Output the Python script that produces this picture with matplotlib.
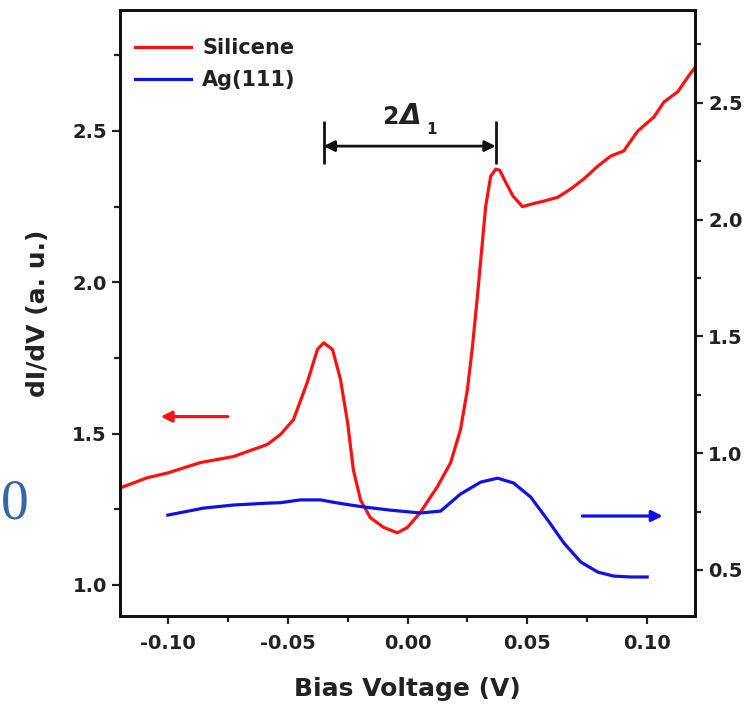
import numpy as np
import matplotlib
matplotlib.use("Agg")
import matplotlib.pyplot as plt
from matplotlib.ticker import MultipleLocator

plt.rcParams['font.family'] = 'DejaVu Sans'
plt.rcParams['font.weight'] = 'bold'

# --- data ---
# Silicene dI/dV (left axis)
si_v = [-0.120, -0.1086, -0.100, -0.0865, -0.0727, -0.0585, -0.053, -0.0476, -0.0418, -0.0376,
        -0.035, -0.0313, -0.028, -0.025, -0.0226, -0.0196, -0.0155, -0.010, -0.0042, 0.0,
        0.0054, 0.0125, 0.018, 0.0221, 0.025, 0.0271, 0.029, 0.0326, 0.0347, 0.0368,
        0.0385, 0.041, 0.044, 0.048, 0.0525, 0.0568, 0.0627, 0.068, 0.0735, 0.0794,
        0.0848, 0.0902, 0.0961, 0.1028, 0.107, 0.1128, 0.118, 0.120]
si_y = [1.32, 1.354, 1.37, 1.404, 1.424, 1.464, 1.497, 1.546, 1.67, 1.778,
        1.80, 1.778, 1.68, 1.536, 1.38, 1.28, 1.222, 1.19, 1.172, 1.19,
        1.24, 1.325, 1.404, 1.513, 1.646, 1.788, 1.94, 2.25, 2.35, 2.374,
        2.37, 2.33, 2.285, 2.25, 2.26, 2.268, 2.281, 2.308, 2.341, 2.384,
        2.417, 2.434, 2.50, 2.546, 2.596, 2.63, 2.69, 2.71]

# Ag(111) dI/dV (right axis)
ag_v = [-0.10, -0.085, -0.0727, -0.0585, -0.053, -0.0447, -0.0363, -0.031, -0.0238, -0.0184,
        -0.0071, 0.0054, 0.0138, 0.0221, 0.0305, 0.0376, 0.0443, 0.0514, 0.0585, 0.0652,
        0.0723, 0.0794, 0.086, 0.093, 0.10]
ag_y = [0.735, 0.765, 0.778, 0.786, 0.788, 0.80, 0.80, 0.79, 0.778, 0.77,
        0.756, 0.744, 0.752, 0.825, 0.876, 0.893, 0.872, 0.812, 0.714, 0.616,
        0.534, 0.491, 0.474, 0.470, 0.470]

# gap marker (peak positions) and its level on the left axis
gap_left, gap_right = -0.035, 0.0368
gap_level, gap_lo, gap_hi = 2.45, 2.39, 2.533

red = '#ff1010'
blue = '#1010e8'
ink = '#222222'

# --- figure ---
fig = plt.figure(figsize=(7.45, 7.07), dpi=100)
ax = fig.add_axes([0.161, 0.1287, 0.772, 0.8572])
ax2 = ax.twinx()

l1, = ax.plot(si_v, si_y, color=red, lw=2.3, label='Silicene', solid_joinstyle='round')
l2, = ax2.plot(ag_v, ag_y, color=blue, lw=2.3, label='Ag(111)', solid_joinstyle='round')

ax.set_xlim(-0.12, 0.12)
ax.set_ylim(0.897, 2.90)
ax2.set_ylim(0.303, 2.897)

ax.xaxis.set_major_locator(MultipleLocator(0.05))
ax.xaxis.set_minor_locator(MultipleLocator(0.025))
ax.yaxis.set_major_locator(MultipleLocator(0.5))
ax.yaxis.set_minor_locator(MultipleLocator(0.25))
ax2.yaxis.set_major_locator(MultipleLocator(0.5))
ax2.yaxis.set_minor_locator(MultipleLocator(0.25))
ax.xaxis.set_major_formatter(plt.FuncFormatter(lambda v, p: f"{v:.2f}"))
ax.yaxis.set_major_formatter(plt.FuncFormatter(lambda v, p: f"{v:.1f}"))
ax2.yaxis.set_major_formatter(plt.FuncFormatter(lambda v, p: f"{v:.1f}"))

for a in (ax, ax2):
    a.tick_params(which='both', direction='out', width=1.6, labelsize=14, colors=ink)
    a.tick_params(which='major', length=6)
    a.tick_params(which='minor', length=4)
    for s in a.spines.values():
        s.set_linewidth(2)
        s.set_color('#111111')
ax.tick_params(axis='y', which='both', right=False)
ax.tick_params(axis='x', which='both', top=False)
ax.tick_params(axis='x', which='major', pad=7)

ax.set_xlabel('Bias Voltage (V)', fontsize=18, fontweight='bold', labelpad=17, color=ink)
ax.set_ylabel('dI/dV (a. u.)', fontsize=18, fontweight='bold', labelpad=16, color=ink)

leg = ax.legend(handles=[l1, l2], loc='upper left', frameon=False, fontsize=15,
                handlelength=2.7, handletextpad=0.55, labelspacing=0.55,
                borderaxespad=0.3, bbox_to_anchor=(0.0, 0.977))
for t in leg.get_texts():
    t.set_fontweight('bold')
    t.set_color(ink)

# gap annotation
ax.vlines([gap_left, gap_right], gap_lo, gap_hi, color='#111111', lw=2)
ax.annotate('', xy=(gap_left, gap_level), xytext=(gap_right, gap_level),
            arrowprops=dict(arrowstyle='<|-|>', color='#111111', lw=2,
                            mutation_scale=16, shrinkA=0, shrinkB=0))
mid = (gap_left + gap_right) / 2
ax.annotate('2', xy=(mid, gap_level), xytext=(-8, 16), textcoords='offset points',
            ha='right', va='baseline', fontsize=17, fontweight='bold', color=ink)
ax.annotate('\u0394', xy=(mid, gap_level), xytext=(-7, 16), textcoords='offset points',
            ha='left', va='baseline', fontsize=20, fontweight='bold', fontstyle='italic',
            color=ink)
ax.annotate('1', xy=(mid, gap_level), xytext=(12, 8.5), textcoords='offset points',
            ha='left', va='baseline', fontsize=11, fontweight='bold', color=ink)

# axis pointers
ax.annotate('', xy=(-0.103, 1.556), xytext=(-0.075, 1.556),
            arrowprops=dict(arrowstyle='-|>', color=red, lw=2.3,
                            mutation_scale=16, shrinkA=0, shrinkB=0))
ax2.annotate('', xy=(0.1065, 0.731), xytext=(0.073, 0.731),
             arrowprops=dict(arrowstyle='-|>', color=blue, lw=2.3,
                             mutation_scale=16, shrinkA=0, shrinkB=0))

# stray glyph at the left edge of the screenshot
fig.text(0.001, 0.286, '0', family='Liberation Serif', fontsize=40,
         fontweight='normal', color='#3466a8', va='center', ha='left')

fig.savefig('out.png', dpi=100)
